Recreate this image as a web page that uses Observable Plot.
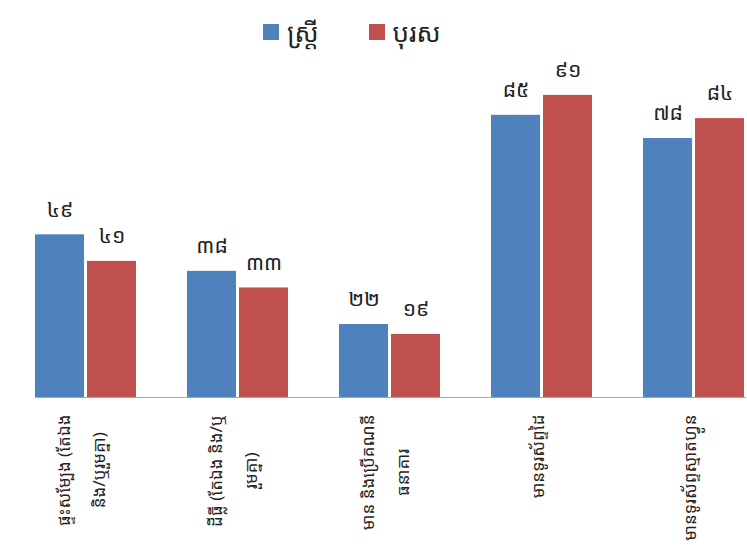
<!DOCTYPE html>
<html><head><meta charset="utf-8">
<script src="https://cdn.jsdelivr.net/npm/d3@7"></script>
<script src="https://cdn.jsdelivr.net/npm/@observablehq/plot@0.6"></script>
<style>
html,body{margin:0;padding:0;background:#fff;overflow:hidden;}
#wrap{position:relative;width:747px;height:552px;overflow:hidden;}
#legend{position:absolute;top:0;left:0;height:64px;display:flex;align-items:center;padding-left:263px;font-family:"Noto Sans Khmer","Khmer OS","Noto Sans",sans-serif;font-size:26px;color:#222;z-index:2;}
.item{display:flex;align-items:center;margin-right:50px;}
.sw{width:16px;height:16px;margin-right:8px;}
#chart svg{max-width:none !important;}
</style></head><body>
<div id="wrap"><div id="legend"></div><div id="chart"></div></div>
<script>
const categories = [
  "ផ្ទះសម្បែង (តែឯង\nនិង/ឬរួមគ្នា)",
  "ដីធ្លី (តែឯង និង/ឬ\nរួមគ្នា)",
  "មាន និងប្រើគណនី\nធនាគារ",
  "មានទូរស័ព្ទដៃ",
  "មានទូរស័ព្ទស្មាតហ្វូន"
];
const seriesNames = ["ស្ត្រី", "បុរស"];
const women = [49, 38, 22, 85, 78];
const men = [41, 33, 19, 91, 84];
const colors = ["#4F81BD", "#C0504D"];

const FONT = '"Noto Sans Khmer","Khmer OS","Noto Sans",sans-serif';
const toKhmer = n => String(n).replace(/\d/g, d => "០១២៣៤៥៦៧៨៩"[d]);
const data = categories.flatMap((c, i) => [
  {category: c, sex: seriesNames[0], value: women[i]},
  {category: c, sex: seriesNames[1], value: men[i]}
]);

const legend = document.getElementById("legend");
seriesNames.forEach((s, i) => {
  const it = document.createElement("div"); it.className = "item";
  const sw = document.createElement("div"); sw.className = "sw"; sw.style.background = colors[i];
  const tx = document.createElement("span"); tx.textContent = s;
  it.appendChild(sw); it.appendChild(tx); legend.appendChild(it);
});

const chart = Plot.plot({
  width: 780, height: 552,
  marginLeft: 9, marginRight: 8.5, marginTop: 65, marginBottom: 155,
  style: {fontFamily: FONT, background: "white", overflow: "visible", maxWidth: "none"},
  fx: {domain: categories, paddingInner: 0.328, paddingOuter: 0.164, axis: null},
  x: {domain: seriesNames, paddingInner: 0.05, paddingOuter: 0, axis: null},
  y: {domain: [0, 100], axis: null},
  color: {domain: seriesNames, range: colors},
  marks: [
    Plot.barY(data, {fx: "category", x: "sex", y: "value", fill: "sex"}),
    Plot.text(data, {fx: "category", x: "sex", y: "value", text: d => toKhmer(d.value), dy: -25, fontSize: 21, fill: "#222"}),
    Plot.frame({anchor: "bottom", facet: "super", stroke: "#a6a6a6", strokeWidth: 1.2}),
    Plot.axisFx({anchor: "bottom", tickSize: 0, tickPadding: 17, tickRotate: -90, dx: -10, fontSize: 17, lineHeight: 2.06, label: null, fill: "#222"})
  ]
});
document.getElementById("chart").appendChild(chart);

// center multi-line tick labels within their block (block anchored at axis)
chart.querySelectorAll('[aria-label="fx-axis tick label"] text').forEach(t => {
  const spans = Array.from(t.querySelectorAll("tspan"));
  if (spans.length < 2) return;
  const maxW = Math.max(...spans.map(s => s.getComputedTextLength()));
  t.setAttribute("text-anchor", "middle");
  spans.forEach(s => s.setAttribute("x", -maxW / 2));
});
</script>
</body></html>
